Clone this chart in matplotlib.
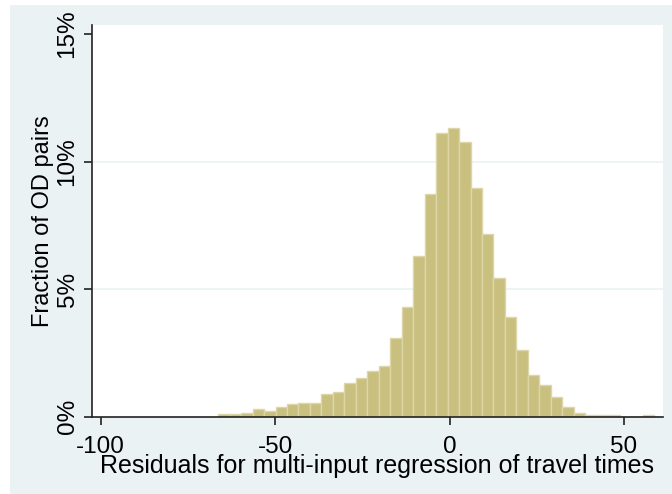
import matplotlib
matplotlib.use("Agg")

import matplotlib.pyplot as plt
from matplotlib.patches import Rectangle
import numpy as np

plt.rcParams["font.family"] = ["Liberation Sans", "DejaVu Sans"]
plt.rcParams["axes.unicode_minus"] = False

# histogram: 38 bins, fraction of OD pairs in percent
bin_start = -66.33
bin_width = 3.289
fractions = [0.09, 0.09, 0.16, 0.30, 0.22, 0.39, 0.49, 0.55, 0.55, 0.88,
             0.96, 1.33, 1.50, 1.80, 1.97, 3.07, 4.31, 6.31, 8.73, 11.11,
             11.33, 10.78, 8.98, 7.16, 5.43, 3.92, 2.62, 1.64, 1.24, 0.78,
             0.37, 0.16, 0.08, 0.08, 0.08, 0.0, 0.0, 0.08]

x_ticks = [-100, -50, 0, 50]
y_ticks = [0, 5, 10, 15]
y_tick_labels = ["0%", "5%", "10%", "15%"]

bg = "#EAF2F3"

fig = plt.figure(figsize=(6.72, 4.94), dpi=100)
fig.patch.set_facecolor("white")
fig.patches.append(Rectangle((10 / 672, 0), 662 / 672, 489 / 494,
                             transform=fig.transFigure, facecolor=bg,
                             edgecolor="none", zorder=-1))

ax = fig.add_axes([91.7 / 672, 1 - 416.7 / 494, (663.3 - 91.7) / 672, (416.7 - 25) / 494])
ax.set_facecolor("white")

edges = bin_start + bin_width * np.arange(len(fractions))
ax.bar(edges, fractions, width=bin_width, align="edge",
       color="#C9C07F", edgecolor="#DDD6A8", linewidth=1.0, zorder=2)

for y in [5, 10]:
    ax.axhline(y, color=bg, linewidth=1.2, zorder=1)

ax.set_xlim(-102.6, 61.3)
ax.set_ylim(0, 15.36)

ax.set_xticks(x_ticks)
ax.set_yticks(y_ticks)
ax.set_yticklabels(y_tick_labels, rotation=90, va="center")

ax.tick_params(axis="both", direction="out", length=6, width=1.2,
               color="#222222", labelsize=17.5)
ax.tick_params(axis="x", pad=8)
ax.tick_params(axis="y", pad=3.5)

for side in ["top", "right"]:
    ax.spines[side].set_visible(False)
for side in ["left", "bottom"]:
    ax.spines[side].set_color("#222222")
    ax.spines[side].set_linewidth(1.2)

ax.set_xlabel("Residuals for multi-input regression of travel times", fontsize=18, labelpad=-3)
ax.set_ylabel("Fraction of OD pairs", fontsize=17, labelpad=2)

fig.savefig("out.png", dpi=100)
plt.close()
